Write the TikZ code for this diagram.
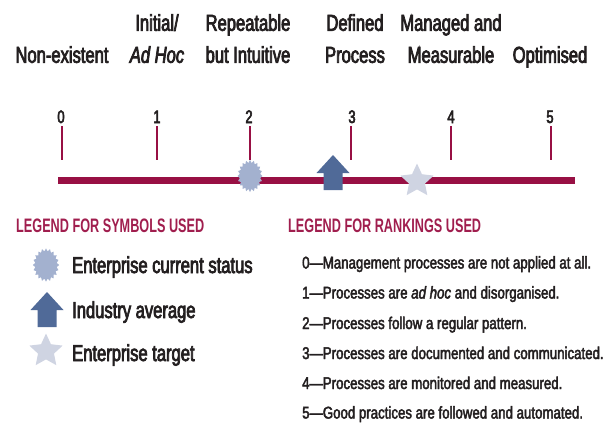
\documentclass[tikz,border=0pt]{standalone}
\usepackage{fontspec}
\setmainfont{Liberation Sans}
\newfontfamily\labfont[FakeStretch=0.72,FakeBold=3.2]{Liberation Sans}
\newfontfamily\rankfont[FakeStretch=0.78,FakeBold=2.6]{Liberation Sans}
\newfontfamily\hdfont[FakeStretch=0.65]{Liberation Sans}
\definecolor{maroon}{RGB}{152,16,68}
\definecolor{headcol}{RGB}{160,30,78}
\definecolor{txt}{RGB}{35,31,32}
\definecolor{burstcol}{RGB}{163,177,207}
\definecolor{arrowcol}{RGB}{80,106,152}
\definecolor{starcol}{RGB}{207,212,226}
\begin{document}
\begin{tikzpicture}[x=1pt,y=-1pt,
  lab/.style={font=\labfont\fontsize{23}{32}\selectfont, text=txt, inner sep=0pt, align=center, anchor=south, text depth=0pt},
  num/.style={font=\labfont\fontsize{18}{18}\selectfont, text=txt, inner sep=0pt, anchor=base},
  tickline/.style={draw=maroon, line width=1.5pt},
  barline/.style={draw=maroon, line width=7pt},
  legtext/.style={font=\labfont\fontsize{23}{23}\selectfont, text=txt, inner sep=0pt, anchor=base west},
  head/.style={font=\hdfont\bfseries\fontsize{19.5}{20}\selectfont, text=headcol, inner sep=0pt, anchor=base west},
  rank/.style={font=\rankfont\fontsize{17}{17}\selectfont, text=txt, inner sep=0pt, anchor=base west},
  burst/.pic={\fill[burstcol] (0:12.5) \foreach \a in {0,18,...,342}{ -- (\a+9:10.3) -- (\a+18:12.5)} -- cycle;},
  uparrow/.pic={\fill[arrowcol] (0,-18) -- (16.5,0) -- (9.5,0) -- (9.5,17) -- (-9.5,17) -- (-9.5,0) -- (-16.5,0) -- cycle;},
  fivestar/.pic={\fill[starcol] (-90:17.5) -- (-54:8.4) -- (-18:17.5) -- (18:8.4) -- (54:17.5) -- (90:8.4) -- (126:17.5) -- (162:8.4) -- (198:17.5) -- (234:8.4) -- cycle;}
]
\useasboundingbox (0,0) rectangle (614,424);

% top labels
\node[lab] (l0) at (62,63) {Non-existent};
\node[lab] (l1) at (157,63) {Initial/\\\textit{Ad Hoc}};
\node[lab] (l2) at (248,63) {Repeatable\\but Intuitive};
\node[lab] (l3) at (355,63) {Defined\\Process};
\node[lab] (l4) at (451,63) {Managed and\\Measurable};
\node[lab] (l5) at (550,63) {Optimised};

% numbers
\node[num] (n0) at (61,123) {0};
\node[num] (n1) at (157,123) {1};
\node[num] (n2) at (249,123) {2};
\node[num] (n3) at (352,123) {3};
\node[num] (n4) at (451,123) {4};
\node[num] (n5) at (550,123) {5};

% ticks
\foreach \i/\x in {0/62,1/157,2/250,3/351,4/451,5/551}{
  \coordinate (ta\i) at (\x,126);
  \coordinate (tb\i) at (\x,160);
  \draw[tickline] (ta\i) -- (tb\i);
}

% bar
\coordinate (barL) at (58,180.5);
\coordinate (barR) at (575,180.5);
\draw[barline] (barL) -- (barR);

% symbols on the scale
\pic[yscale=1.28] at (250,176) {burst};
\pic at (333,173) {uparrow};
\pic at (417,181) {fivestar};

% legend for symbols
\node[head] (h1) at (16,232) {LEGEND FOR SYMBOLS USED};
\pic[xscale=1.05,yscale=1.33] at (46,265) {burst};
\node[legtext] (s1) at (72,273) {Enterprise current status};
\pic at (47,310) {uparrow};
\node[legtext] (s2) at (72,318) {Industry average};
\pic at (46,351) {fivestar};
\node[legtext] (s3) at (72,361) {Enterprise target};

% legend for rankings
\node[head] (h2) at (288,232) {LEGEND FOR RANKINGS USED};
\node[rank] (r0) at (302,268.5) {0—Management processes are not applied at all.};
\node[rank] (r1) at (302,298.5) {1—Processes are \textit{ad hoc} and disorganised.};
\node[rank] (r2) at (302,329) {2—Processes follow a regular pattern.};
\node[rank] (r3) at (302,359) {3—Processes are documented and communicated.};
\node[rank] (r4) at (302,389) {4—Processes are monitored and measured.};
\node[rank] (r5) at (302,418.5) {5—Good practices are followed and automated.};
\end{tikzpicture}
\end{document}
